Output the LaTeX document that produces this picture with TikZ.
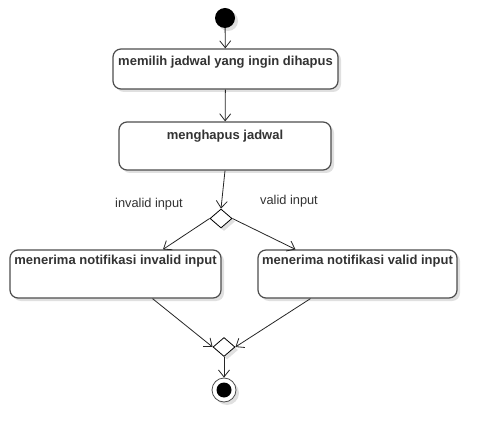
\documentclass[tikz,border=0pt]{standalone}
\usepackage{fontspec}
\setmainfont{Liberation Sans}
\usetikzlibrary{arrows.meta,shapes.geometric,shadows}
\definecolor{txt}{HTML}{333333}
\definecolor{edge}{HTML}{4D4D4D}
\tikzset{
  shd/.style={drop shadow={shadow xshift=3pt,shadow yshift=-3pt,fill=black!12,opacity=1}},
  act/.style={draw=edge,line width=1.2pt,rounded corners=8pt,fill=white,shd,inner sep=0pt},
  acttext/.style={anchor=north,font=\bfseries\fontsize{13}{15}\selectfont,text=txt,inner sep=0pt},
  lbl/.style={font=\fontsize{12.8}{15}\selectfont,text=txt,inner sep=0pt},
  dec/.style={draw=black,line width=0.8pt,fill=white,diamond,aspect=1.2,minimum width=22pt,minimum height=19pt,inner sep=0pt,shd},
  flow/.style={draw=black!85,line width=0.8pt,-{Straight Barb[length=7pt,width=11pt,line width=0.8pt]}},
}
\begin{document}
\begin{tikzpicture}[x=1pt,y=-1pt]
\useasboundingbox (0,0) rectangle (497,443);
\fill[white] (0,0) rectangle (497,443);
% start
\node[circle,fill=black,minimum size=20pt,inner sep=0pt,shd] (start) at (225,18) {};
% activities
\node[act,minimum width=225pt,minimum height=40pt] (a1) at (225.5,69) {};
\node[acttext] (a1t) at ([yshift=-7pt]a1.north) {memilih jadwal yang ingin dihapus};
\node[act,minimum width=212pt,minimum height=48pt] (a2) at (225,146) {};
\node[acttext] (a2t) at ([yshift=-8pt]a2.north) {menghapus jadwal};
\node[dec] (d1) at (221,218.5) {};
\node[lbl] (l1) at (149,204) {invalid input};
\node[lbl] (l2) at (289,201) {valid input};
\node[act,minimum width=211pt,minimum height=48pt] (a3) at (115.5,274) {};
\node[acttext] (a3t) at ([yshift=-5pt]a3.north) {menerima notifikasi invalid input};
\node[act,minimum width=199pt,minimum height=48pt] (a4) at (357.5,274) {};
\node[acttext] (a4t) at ([yshift=-5pt]a4.north) {menerima notifikasi valid input};
\node[dec] (d2) at (224,347) {};
% end
\node[circle,draw=edge,line width=0.8pt,fill=white,minimum size=24pt,inner sep=0pt,shd] (end) at (224,390) {};
\node[circle,fill=black,minimum size=15pt,inner sep=0pt] (endc) at (end.center) {};
% flows
\draw[flow] (start) -- (a1);
\draw[flow] (a1) -- (a2);
\draw[flow] (a2.south) -- (d1.north);
\draw[flow] (d1.west) -- ([xshift=47.5pt]a3.north);
\draw[flow] (d1.east) -- ([xshift=-62pt]a4.north);
\draw[flow] ([xshift=37pt]a3.south) -- (d2.west);
\draw[flow] ([xshift=-47pt]a4.south) -- (d2.east);
\draw[flow] (d2.south) -- (end.north);
\end{tikzpicture}
\end{document}
